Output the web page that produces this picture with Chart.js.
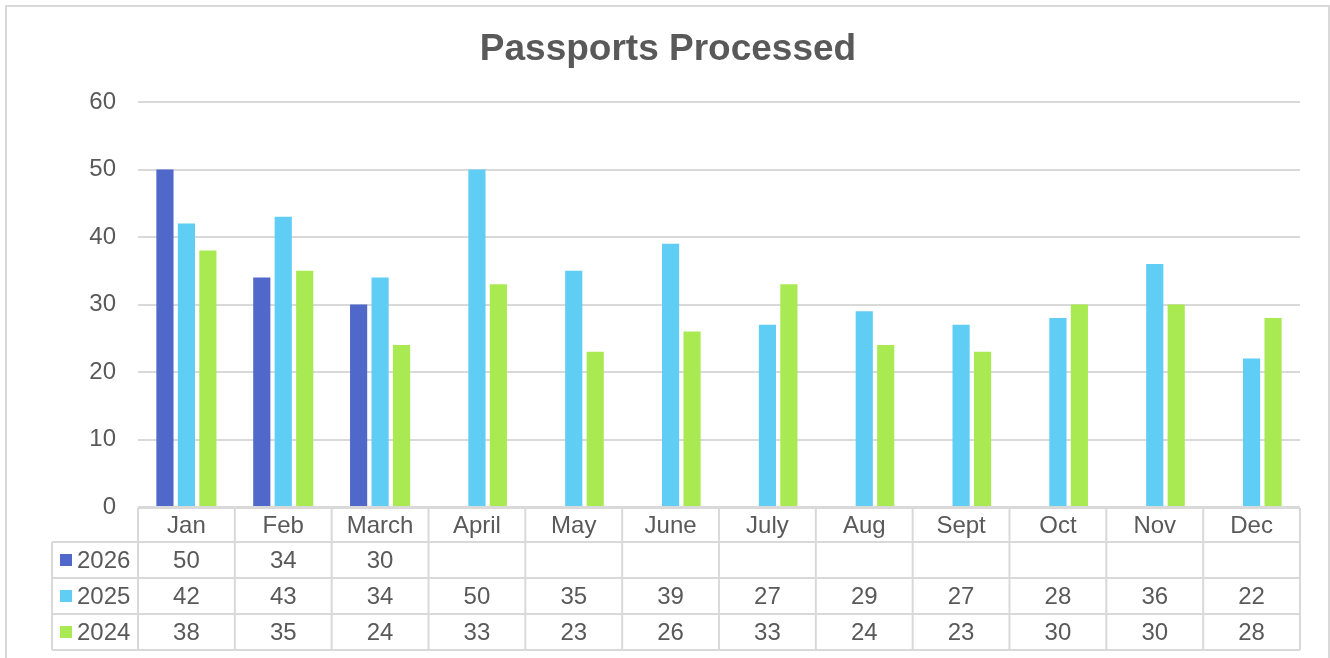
<!DOCTYPE html>
<html>
<head>
<meta charset="utf-8">
<title>Passports Processed</title>
<script src="https://cdn.jsdelivr.net/npm/chart.js@4/dist/chart.umd.min.js"></script>
<style>
  html, body { margin: 0; padding: 0; background: #fff; overflow: hidden; }
  #frame {
    position: absolute; left: 5px; top: 5px; width: 1325px; height: 700px;
    box-sizing: border-box; border: 2px solid #d9d9d9;
  }
  #wrap { position: absolute; left: 0; top: 0; width: 1330px; height: 658px; }
</style>
</head>
<body>
<div id="frame"></div>
<div id="wrap"><canvas id="chart" width="1330" height="658"></canvas></div>
<script>
const months = ['Jan', 'Feb', 'March', 'April', 'May', 'June', 'July', 'Aug', 'Sept', 'Oct', 'Nov', 'Dec'];
const years = ['2026', '2025', '2024'];
const v2026 = [50, 34, 30, null, null, null, null, null, null, null, null, null];
const v2025 = [42, 43, 34, 50, 35, 39, 27, 29, 27, 28, 36, 22];
const v2024 = [38, 35, 24, 33, 23, 26, 33, 24, 23, 30, 30, 28];
const colors = ['#5068c9', '#5fcdf4', '#a9ea52'];

const FONT = "'Liberation Sans', Arial, sans-serif";
const TEXT = '#595959';
const LINE = '#d9d9d9';

// Excel style data table under the plot
const dataTable = {
  id: 'dataTable',
  afterDraw(chart) {
    const { ctx, chartArea } = chart;
    const left = chartArea.left, right = chartArea.right;
    const step = (right - left) / months.length;
    const legendLeft = 52;
    const top = chartArea.bottom + 1;
    const headH = 34, rowH = 36;
    const series = [v2026, v2025, v2024];

    ctx.save();
    ctx.strokeStyle = LINE;
    ctx.lineWidth = 2;
    ctx.beginPath();
    ctx.moveTo(left, top); ctx.lineTo(right, top);
    for (let r = 0; r <= series.length; r++) {
      const y = top + headH + r * rowH;
      ctx.moveTo(legendLeft, y); ctx.lineTo(right, y);
    }
    const bottom = top + headH + series.length * rowH;
    ctx.moveTo(legendLeft, top + headH); ctx.lineTo(legendLeft, bottom);
    for (let i = 0; i <= months.length; i++) {
      const x = left + i * step;
      ctx.moveTo(x, top); ctx.lineTo(x, bottom);
    }
    ctx.stroke();

    ctx.font = '24px ' + FONT;
    ctx.textBaseline = 'middle';
    series.forEach((vals, r) => {
      const cy = top + headH + r * rowH + rowH / 2 + 1;
      ctx.fillStyle = colors[r];
      ctx.fillRect(60, cy - 7, 12, 12);
      ctx.fillStyle = TEXT;
      ctx.textAlign = 'left';
      ctx.fillText(years[r], 77, cy);
      ctx.textAlign = 'center';
      vals.forEach((v, i) => {
        if (v === null) return;
        ctx.fillText(String(v), left + (i + 0.5) * step, cy);
      });
    });
    ctx.restore();
  }
};

const datasets = [v2026, v2025, v2024].map((d, i) => ({
  label: years[i],
  data: d,
  backgroundColor: colors[i],
  categoryPercentage: 0.665,
  barPercentage: 0.8
}));

new Chart(document.getElementById('chart'), {
  type: 'bar',
  data: { labels: months, datasets },
  plugins: [dataTable],
  options: {
    responsive: false,
    animation: false,
    layout: { padding: { top: 10, right: 0, left: 6, bottom: 0 } },
    plugins: {
      legend: { display: false },
      tooltip: { enabled: false },
      title: {
        display: true,
        text: 'Passports Processed',
        color: TEXT,
        font: { family: FONT, size: 37, weight: 'bold' },
        padding: { top: 18, bottom: 29.6 }
      }
    },
    scales: {
      x: {
        grid: { display: false, drawTicks: false },
        border: { display: false },
        ticks: { color: TEXT, font: { family: FONT, size: 24 }, padding: 5, maxRotation: 0, autoSkip: false },
        afterFit(scale) { scale.height = 151; }
      },
      y: {
        min: 0, max: 60,
        grid: { color: LINE, lineWidth: 2, drawTicks: false },
        border: { display: false },
        ticks: { stepSize: 10, color: TEXT, font: { family: FONT, size: 24 }, padding: 22 },
        afterFit(scale) { scale.width = 132; }
      },
      // empty right axis, only keeps the plot clear of the right frame
      yRight: {
        position: 'right',
        min: 0, max: 60,
        grid: { display: false, drawTicks: false },
        border: { display: false },
        ticks: { display: false },
        afterFit(scale) { scale.width = 30; }
      }
    }
  }
});
</script>
</body>
</html>
